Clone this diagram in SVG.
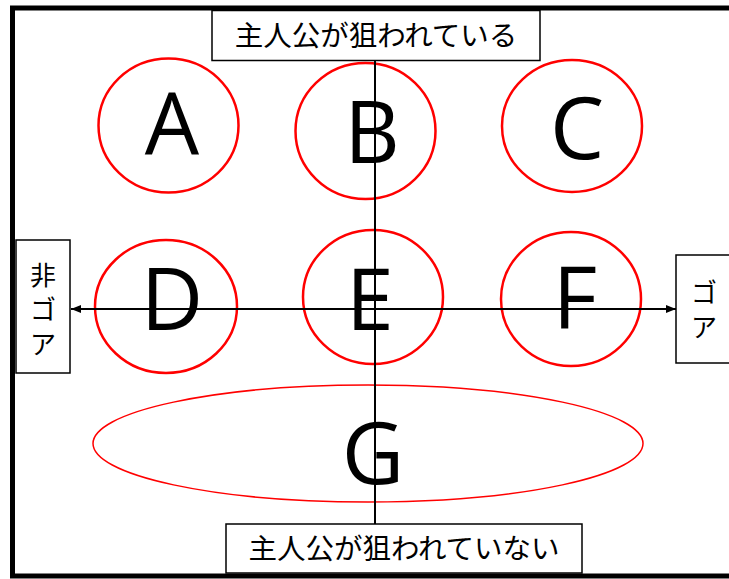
<svg xmlns="http://www.w3.org/2000/svg" width="729" height="579" viewBox="0 0 729 579">
<defs>
<style>
.frame{fill:#fff;stroke:#000;stroke-width:5}
.box{fill:#fff;stroke:#000;stroke-width:1.5}
.c{fill:none;stroke:#f00;stroke-width:2.5}
.g{fill:none;stroke:#f00;stroke-width:1.5}
.ax{stroke:#000;stroke-width:2;fill:none}
.jp{font-family:"Noto Sans CJK JP","Noto Sans",sans-serif;font-size:28.5px;fill:#000;text-anchor:middle}
.jv{font-family:"Noto Sans CJK JP","Noto Sans",sans-serif;font-size:26px;fill:#000;text-anchor:middle}
.big{font-family:"Open Sans","Liberation Sans",sans-serif;font-size:86px;fill:#000;text-anchor:middle}
</style>
<marker id="ah" viewBox="0 0 10 8" refX="10" refY="4" markerWidth="10" markerHeight="8" markerUnits="userSpaceOnUse" orient="auto-start-reverse">
<path d="M0,0 L10,4 L0,8 Z" fill="#000"/>
</marker>
</defs>
<rect class="frame" x="12.5" y="8" width="725" height="568"/>
<g id="ellipses">
<ellipse id="el-A" class="c" cx="168.5" cy="125.5" rx="70" ry="67"/>
<ellipse id="el-B" class="c" cx="365.5" cy="131" rx="70" ry="68"/>
<ellipse id="el-C" class="c" cx="572" cy="126" rx="70" ry="66"/>
<ellipse id="el-D" class="c" cx="166" cy="306.5" rx="71" ry="66.5"/>
<ellipse id="el-E" class="c" cx="373" cy="297" rx="70" ry="67"/>
<ellipse id="el-F" class="c" cx="571" cy="299" rx="70" ry="67"/>
<ellipse id="el-G" class="g" cx="368" cy="443.5" rx="275" ry="58.5"/>
</g>
<g id="connectors">
<line class="ax" x1="375" y1="60" x2="375" y2="524"/>
<line class="ax" x1="71" y1="309" x2="676" y2="309" marker-start="url(#ah)" marker-end="url(#ah)"/>
</g>
<g id="letters">
<text class="big" x="172" y="155">A</text>
<text class="big" x="372" y="163">B</text>
<text class="big" x="577" y="159">C</text>
<text class="big" x="172" y="330">D</text>
<text class="big" x="370" y="330">E</text>
<text class="big" x="575" y="328">F</text>
<text class="big" x="373" y="484">G</text>
</g>
<g id="top-label">
<rect class="box" x="212" y="10.5" width="328" height="50"/>
<text class="jp" x="376" y="46">主人公が狙われている</text>
</g>
<g id="bottom-label">
<rect class="box" x="226" y="524" width="356" height="49"/>
<text class="jp" x="404" y="559">主人公が狙われていない</text>
</g>
<g id="left-label">
<rect class="box" x="16" y="240" width="54" height="133"/>
<text class="jv"><tspan x="43" y="285">非</tspan><tspan x="43" y="319">ゴ</tspan><tspan x="43" y="354">ア</tspan></text>
</g>
<g id="right-label">
<rect class="box" x="676" y="255" width="60" height="108"/>
<text class="jv"><tspan x="704" y="302">ゴ</tspan><tspan x="704" y="337">ア</tspan></text>
</g>
</svg>
